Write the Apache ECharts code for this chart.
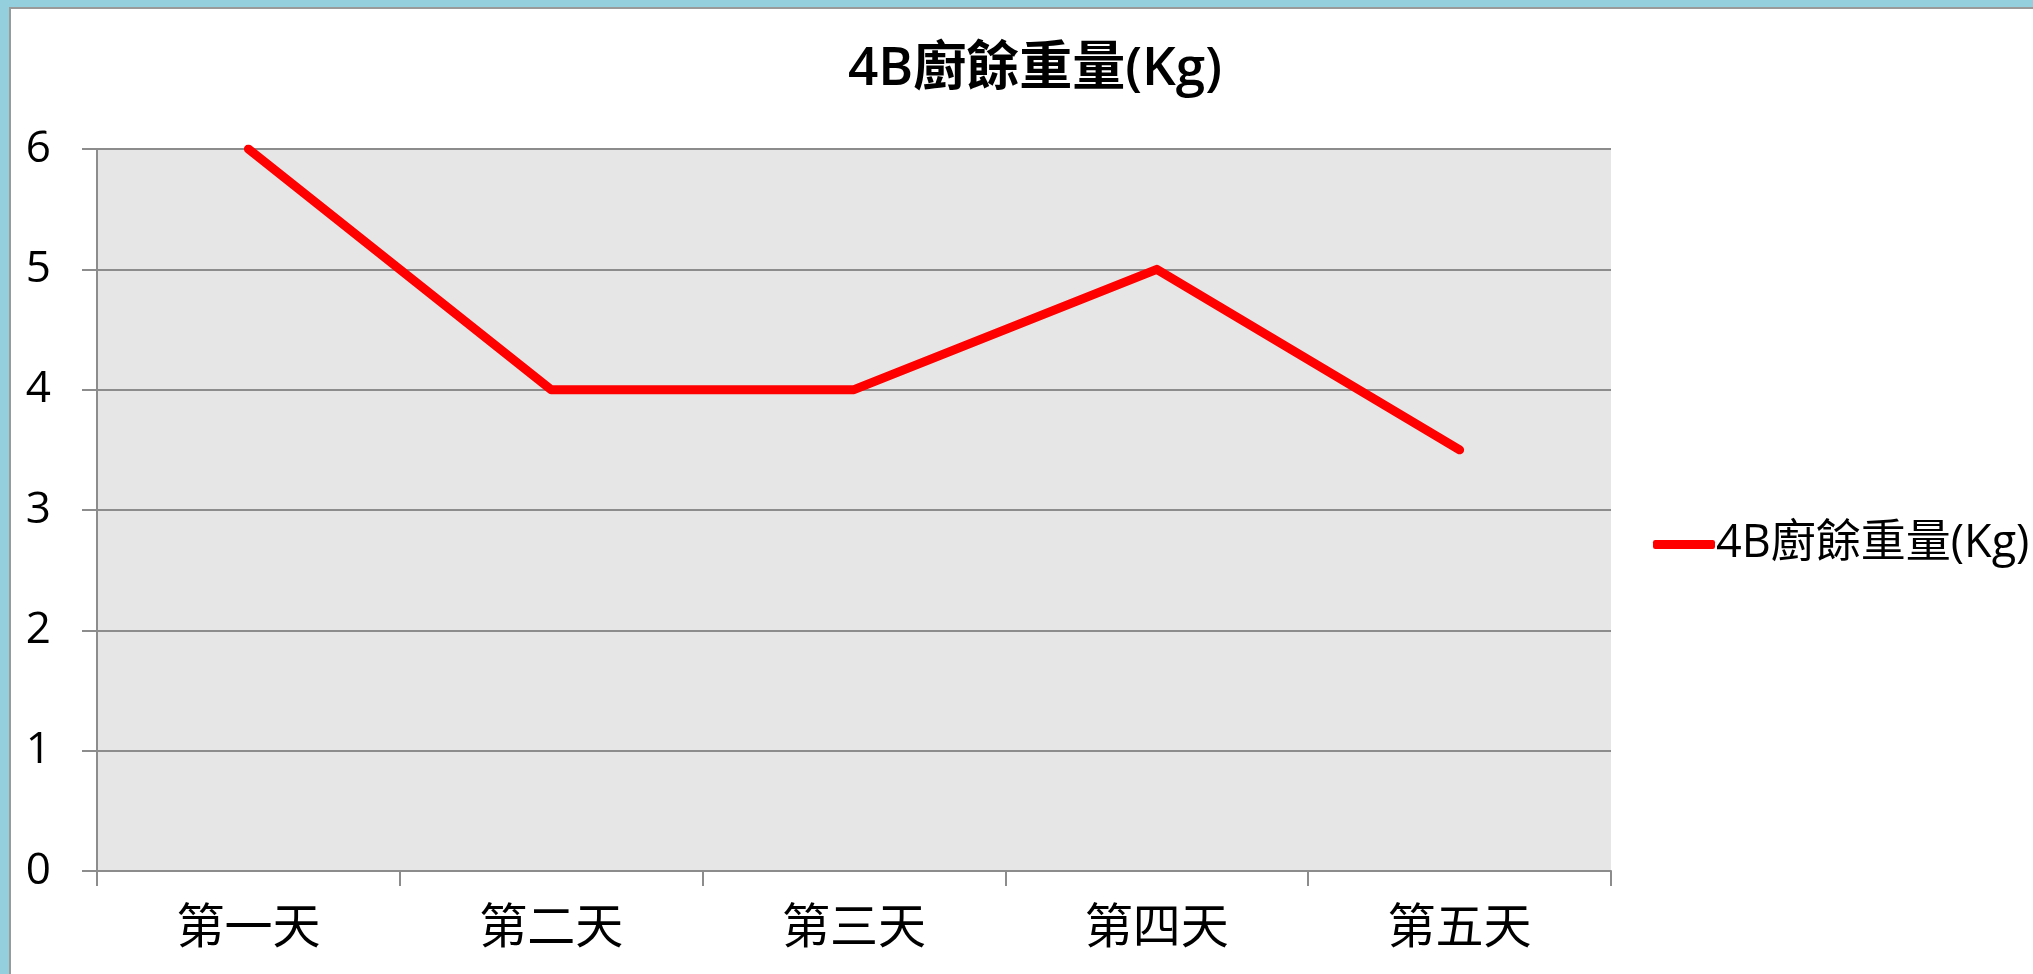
<!DOCTYPE html>
<html>
<head>
<meta charset="utf-8">
<script src="https://cdn.jsdelivr.net/npm/echarts@6/dist/echarts.min.js"></script>
<style>
  html, body { margin: 0; padding: 0; background: #fff; }
  #chart { width: 2033px; height: 974px; }
</style>
</head>
<body>
<div id="chart"></div>
<script>
const titleText = "4B廚餘重量(Kg)";
const seriesName = "4B廚餘重量(Kg)";
const days = ["第一天", "第二天", "第三天", "第四天", "第五天"];
const weights = [6, 4, 4, 5, 3.5];
const yTicks = { min: 0, max: 6, interval: 1 };

const fontFamily = "'Open Sans', 'Noto Sans CJK TC', sans-serif";

const chart = echarts.init(document.getElementById("chart"), undefined, { renderer: "canvas" });
chart.setOption({
  backgroundColor: "#fff",
  animation: false,
  title: {
    text: titleText,
    left: 1030,
    textAlign: "center",
    top: 38,
    textStyle: { fontFamily, fontSize: 53, fontWeight: 600, color: "#000" },
  },
  legend: {
    data: [seriesName],
    left: 1648,
    top: 517,
    icon: "roundRect",
    itemWidth: 62,
    itemHeight: 9,
    itemGap: 0,
    textStyle: { fontFamily, fontSize: 45, color: "#000", padding: [0, 0, 0, -4] },
  },
  grid: {
    left: 97,
    top: 149,
    width: 1514,
    height: 722,
    show: true,
    backgroundColor: "#e6e6e6",
    borderWidth: 0,
  },
  xAxis: {
    type: "category",
    data: days,
    boundaryGap: true,
    axisLine: { lineStyle: { color: "#8c8c8c", width: 2 } },
    axisTick: { show: true, length: 15, inside: false, lineStyle: { color: "#8c8c8c", width: 2 } },
    axisLabel: { margin: 34, fontFamily, fontSize: 48, color: "#000" },
  },
  yAxis: {
    type: "value",
    min: yTicks.min,
    max: yTicks.max,
    interval: yTicks.interval,
    axisLine: { show: true, lineStyle: { color: "#8c8c8c", width: 2 } },
    axisTick: { show: true, length: 15, lineStyle: { color: "#8c8c8c", width: 2 } },
    axisLabel: { margin: 46, fontFamily, fontSize: 44, color: "#000" },
    splitLine: { show: true, lineStyle: { color: "#8c8c8c", width: 2 } },
  },
  series: [
    {
      name: seriesName,
      type: "line",
      data: weights,
      showSymbol: false,
      symbol: "none",
      lineStyle: { color: "#ff0000", width: 9, cap: "round", join: "round" },
      itemStyle: { color: "#ff0000" },
    },
  ],
  graphic: [
    { type: "rect", left: 0, top: 0, shape: { width: 2033, height: 7 }, style: { fill: "#93cfdc" }, silent: true },
    { type: "rect", left: 0, top: 0, shape: { width: 9, height: 974 }, style: { fill: "#93cfdc" }, silent: true },
    { type: "rect", left: 9, top: 7, shape: { width: 2024, height: 2 }, style: { fill: "#9a9a9a" }, silent: true },
    { type: "rect", left: 9, top: 7, shape: { width: 2, height: 967 }, style: { fill: "#9a9a9a" }, silent: true },
  ],
});
</script>
</body>
</html>
